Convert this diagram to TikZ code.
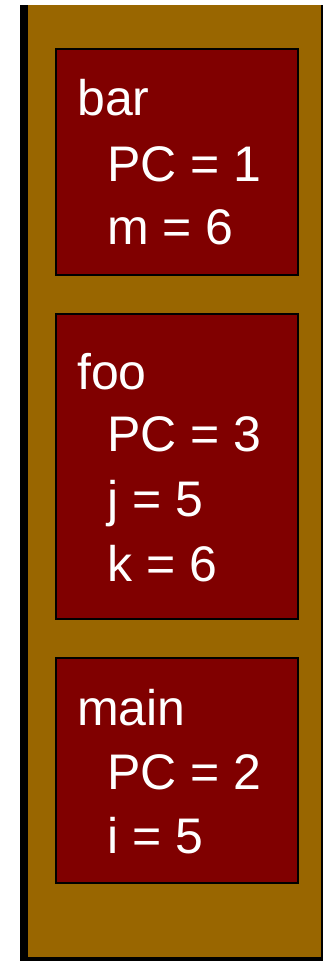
\documentclass[tikz,border=0pt]{standalone}
\usepackage{fontspec}
\setmainfont{Liberation Sans}
\definecolor{pila}{RGB}{153,102,0}
\definecolor{marco}{RGB}{128,0,0}
\begin{document}
\begin{tikzpicture}[x=1pt, y=-1pt, line join=miter,
    framebox/.style={draw=black, line width=1.5pt, fill=marco, inner sep=0pt, anchor=north west},
    linetext/.style={text=white, inner sep=0pt, anchor=base west, font=\fontsize{50}{60}\selectfont}]
  \useasboundingbox (0,0) rectangle (325,961);
  % la pila y su sombra
  \fill[black] (20,5) rectangle (323,961);
  \fill[pila] (28,5) rectangle (321,957);
  % los tres marcos
  \node[framebox, minimum width=242pt, minimum height=226pt] (bar) at (55,48) {};
  \node[framebox, minimum width=242pt, minimum height=305pt] (foo) at (55,313) {};
  \node[framebox, minimum width=242pt, minimum height=225pt] (main) at (55,657) {};
  % los nombres
  \node[linetext] (barname) at (77,115) {bar};
  \node[linetext] (fooname) at (77,389) {foo};
  \node[linetext] (mainname) at (77,725) {main};
  % las variables
  \foreach \y/\t [count=\i] in {181/PC = 1, 244/m = 6} {
    \node[linetext] (barvar\i) at (107,\y) {\t};
  }
  \foreach \y/\t [count=\i] in {451/PC = 3, 516/j = 5, 581/k = 6} {
    \node[linetext] (foovar\i) at (107,\y) {\t};
  }
  \foreach \y/\t [count=\i] in {789/PC = 2, 853/i = 5} {
    \node[linetext] (mainvar\i) at (107,\y) {\t};
  }
\end{tikzpicture}
\end{document}
